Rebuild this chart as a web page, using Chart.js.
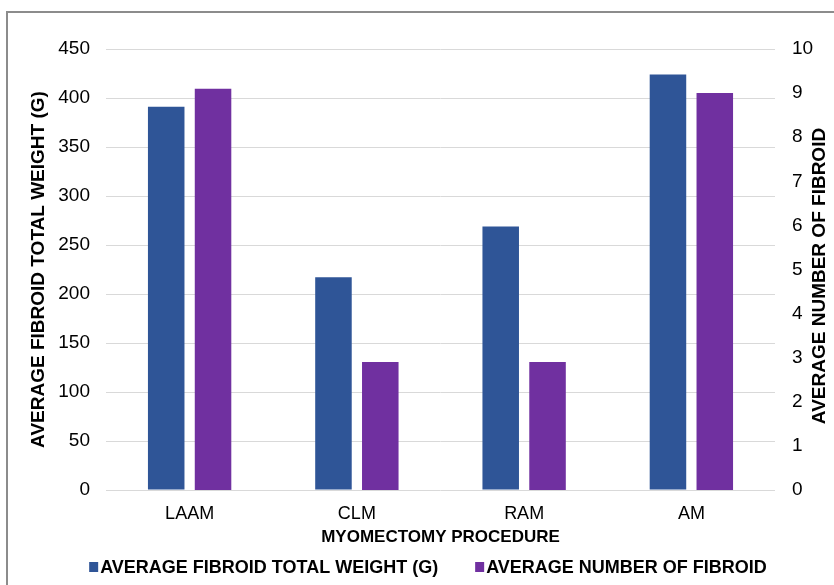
<!DOCTYPE html>
<html>
<head>
<meta charset="utf-8">
<script src="https://cdn.jsdelivr.net/npm/chart.js@4"></script>
<style>
  html, body { margin: 0; padding: 0; background: #fff; }
  #wrap { position: relative; width: 834px; height: 585px; overflow: hidden; }
  #frame { position: absolute; left: 6px; top: 11px; width: 900px; height: 700px;
           border-left: 2px solid #8c8c8c; border-top: 2px solid #8c8c8c; }
  canvas { position: absolute; left: 0; top: 0; }
</style>
</head>
<body>
<div id="wrap">
  <div id="frame"></div>
  <canvas id="chart" width="834" height="585"></canvas>
</div>
<script>
// chart data
const procedures = ['LAAM', 'CLM', 'RAM', 'AM'];
const avgWeight = [391, 217, 269, 424];
const avgNumber = [9.1, 2.9, 2.9, 9.0];

const FAMILY = 'Liberation Sans, Arial, sans-serif';
const colors = ['#2F5597', '#7030A0'];

// right axis title reads bottom-to-top, so draw it ourselves
const rightTitle = {
  id: 'rightTitle',
  afterDraw(chart) {
    const c = chart.ctx;
    c.save();
    c.translate(820, 276);
    c.rotate(-Math.PI / 2);
    c.font = 'bold 19px ' + FAMILY;
    c.fillStyle = '#000';
    c.textAlign = 'center';
    c.textBaseline = 'middle';
    c.fillText('AVERAGE NUMBER OF FIBROID', 0, 0);
    c.restore();
  }
};

// legend with a wider gap between the two items
const bottomLegend = {
  id: 'bottomLegend',
  afterDraw(chart) {
    const c = chart.ctx;
    const sets = chart.data.datasets;
    c.save();
    c.font = 'bold 18px ' + FAMILY;
    c.textBaseline = 'middle';
    const gap = 37;
    let widths = sets.map(d => 11 + c.measureText(d.label).width);
    let total = widths.reduce((a, b) => a + b, 0) + gap * (sets.length - 1);
    let x = 428 - total / 2;
    const y = 567;
    sets.forEach((d, i) => {
      c.fillStyle = d.backgroundColor;
      c.fillRect(x, y - 5, 9, 10);
      c.fillStyle = '#000';
      c.fillText(d.label, x + 11, y + 1);
      x += widths[i] + gap;
    });
    c.restore();
  }
};

const ctx = document.getElementById('chart').getContext('2d');

new Chart(ctx, {
  type: 'bar',
  data: {
    labels: procedures,
    datasets: [
      {
        label: 'AVERAGE FIBROID TOTAL WEIGHT (G)',
        data: avgWeight,
        backgroundColor: colors[0],
        yAxisID: 'y',
        barPercentage: 0.78,
        categoryPercentage: 0.56
      },
      {
        label: 'AVERAGE NUMBER OF FIBROID',
        data: avgNumber,
        backgroundColor: colors[1],
        yAxisID: 'y1',
        barPercentage: 0.78,
        categoryPercentage: 0.56
      }
    ]
  },
  options: {
    responsive: false,
    animation: false,
    layout: { padding: { top: 49, left: 27, right: 21, bottom: 35 } },
    scales: {
      x: {
        grid: { display: false, drawTicks: false },
        border: { display: false },
        ticks: { color: '#000', font: { family: FAMILY, size: 18 }, padding: 13, maxRotation: 0 },
        title: {
          display: true, text: 'MYOMECTOMY PROCEDURE', color: '#000',
          font: { family: FAMILY, size: 17, weight: 'bold' },
          padding: { top: 4, bottom: 2 }
        },
        afterFit(scale) { scale.height = 60; }
      },
      y: {
        position: 'left',
        min: 0,
        max: 450,
        ticks: { stepSize: 50, color: '#000', font: { family: FAMILY, size: 19 }, padding: 16 },
        grid: { color: '#d9d9d9', drawTicks: false },
        border: { display: false },
        title: {
          display: true, text: 'AVERAGE FIBROID TOTAL WEIGHT (G)', color: '#000',
          font: { family: FAMILY, size: 19, weight: 'bold' },
          padding: { top: 0, bottom: 8 }
        },
        afterFit(scale) { scale.width = 79; }
      },
      y1: {
        position: 'right',
        min: 0,
        max: 10,
        ticks: { stepSize: 1, color: '#000', font: { family: FAMILY, size: 19 }, padding: 17 },
        grid: { display: false, drawTicks: false },
        border: { display: false },
        title: { display: false },
        afterFit(scale) { scale.width = 38; }
      }
    },
    plugins: {
      legend: { display: false },
      tooltip: { enabled: false }
    }
  },
  plugins: [rightTitle, bottomLegend]
});
</script>
</body>
</html>
